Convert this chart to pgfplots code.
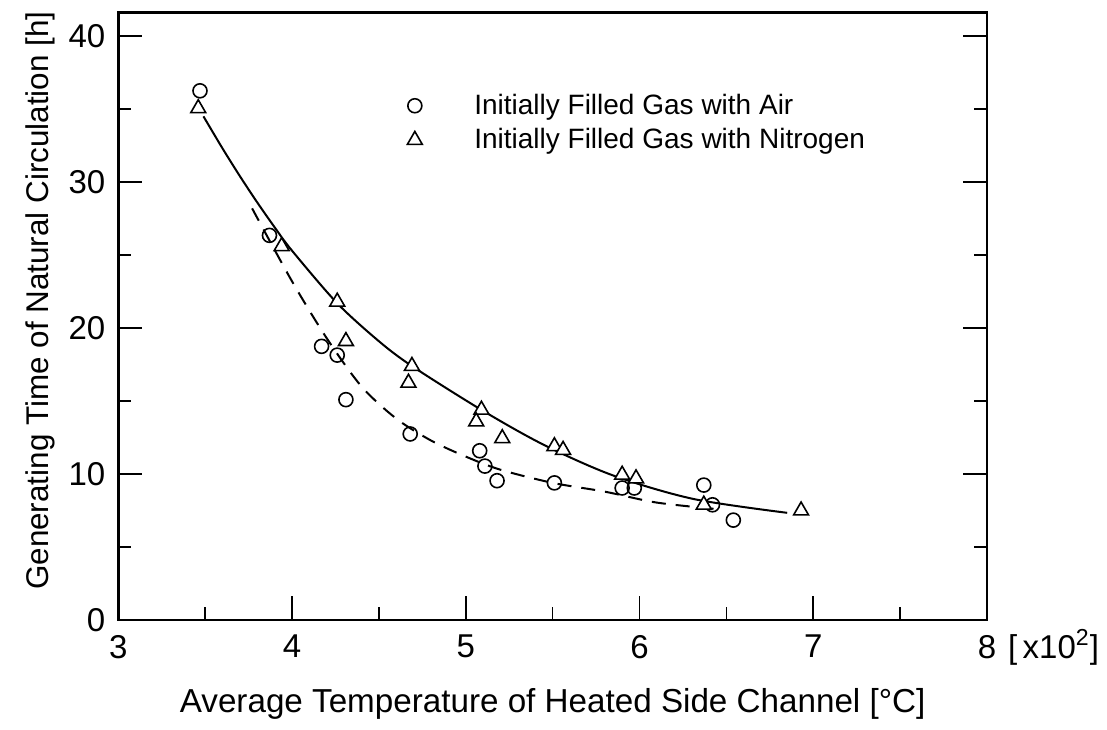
\documentclass[border=0pt]{standalone}
\usepackage{fontspec}
\setmainfont{Liberation Sans}
\usepackage{pgfplots}
\pgfplotsset{compat=1.18}
\begin{document}
\begin{tikzpicture}
\begin{axis}[
  scale only axis, width=434.2pt, height=303.65pt,
  xmin=3, xmax=8, ymin=0, ymax=41.6,
  xtick={3,4,5,6,7,8}, minor xtick={3.5,4.5,5.5,6.5,7.5},
  ytick={0,10,20,30,40}, minor ytick={5,15,25,35},
  tick align=inside, xtick pos=lower, ytick pos=both,
  major tick length=12pt, minor tick length=6.5pt,
  every tick/.style={black, line width=0.8pt},
  axis line style={line width=1.2pt},
  /pgf/number format/assume math mode=true,
  ticklabel style={font=\fontsize{16.5}{18}\selectfont},
  xticklabel style={yshift=-4pt},
  yticklabel style={xshift=-3pt},
  xlabel={Average Temperature of Heated Side Channel [°C]},
  ylabel={Generating Time of Natural Circulation [h]},
  xlabel style={font=\fontsize{16.6}{19}\selectfont, at={(axis description cs:0.5,0)}, anchor=base, yshift=-46pt},
  ylabel style={font=\fontsize{15.7}{18}\selectfont, at={(axis description cs:-0.0898,0.526)}, anchor=center},
  legend style={draw=none, fill=none, at={(axis cs:4.627,36.6)}, anchor=north west,
    font=\fontsize{14}{16}\selectfont, row sep=1.5pt,
    /tikz/every odd column/.append style={column sep=24pt}},
  legend cell align=left,
]
\coordinate (ll) at (rel axis cs:0,0);
\coordinate (lr) at (rel axis cs:1,0);
\coordinate (ur) at (rel axis cs:1,1);
% fitted curves
\addplot[black, line width=1pt, smooth, forget plot] coordinates {
 (3.49,34.5) (3.6,32.3) (3.7,30.4) (3.8,28.6) (3.9,26.9) (4.0,25.3)
 (4.26,21.7) (4.5,19.1) (4.69,17.4) (5.09,14.4)
 (5.45,12.0) (5.85,9.9) (6.31,8.3) (6.85,7.35)};
\addplot[black, line width=1pt, smooth, dash pattern=on 7pt off 5pt, forget plot] coordinates {
 (3.77,28.2) (4.0,23.2) (4.2,19.3) (4.4,16.0) (4.6,13.8) (4.8,12.3) (5.0,11.2)
 (5.2,10.3) (5.5,9.4) (5.8,8.8) (6.1,8.05) (6.45,7.6)};
% data
\addplot[only marks, mark=o, mark size=3.5pt, mark options={black, fill=white, line width=0.8pt}] coordinates {
 (3.47,36.25) (3.87,26.35) (4.17,18.75) (4.26,18.15) (4.31,15.1) (4.68,12.75)
 (5.08,11.6) (5.11,10.55) (5.18,9.55) (5.51,9.4) (5.90,9.05) (5.97,9.05)
 (6.37,9.25) (6.42,7.9) (6.54,6.85)};
\addlegendentry{Initially Filled Gas with Air}
\addplot[only marks, mark=triangle*, mark size=4.3pt, mark options={black, fill=white, line width=0.8pt}] coordinates {
 (3.46,35.05) (3.94,25.6) (4.26,21.8) (4.31,19.1) (4.69,17.4) (4.67,16.25)
 (5.09,14.4) (5.06,13.6) (5.21,12.45) (5.51,11.9) (5.56,11.65) (5.90,9.95)
 (5.98,9.7) (6.37,7.9) (6.93,7.5)};
\addlegendentry{Initially Filled Gas with Nitrogen}
\end{axis}
\node[anchor=base west, font=\fontsize{16.5}{18}\selectfont] at ([shift={(7pt,-19pt)}]lr) {[\,x10\textsuperscript{2}]};
\pgfresetboundingbox
\path ([shift={(-59.15pt,-54.5pt)}]ll) rectangle ([shift={(60pt,6.35pt)}]ur);
\end{tikzpicture}
\end{document}
